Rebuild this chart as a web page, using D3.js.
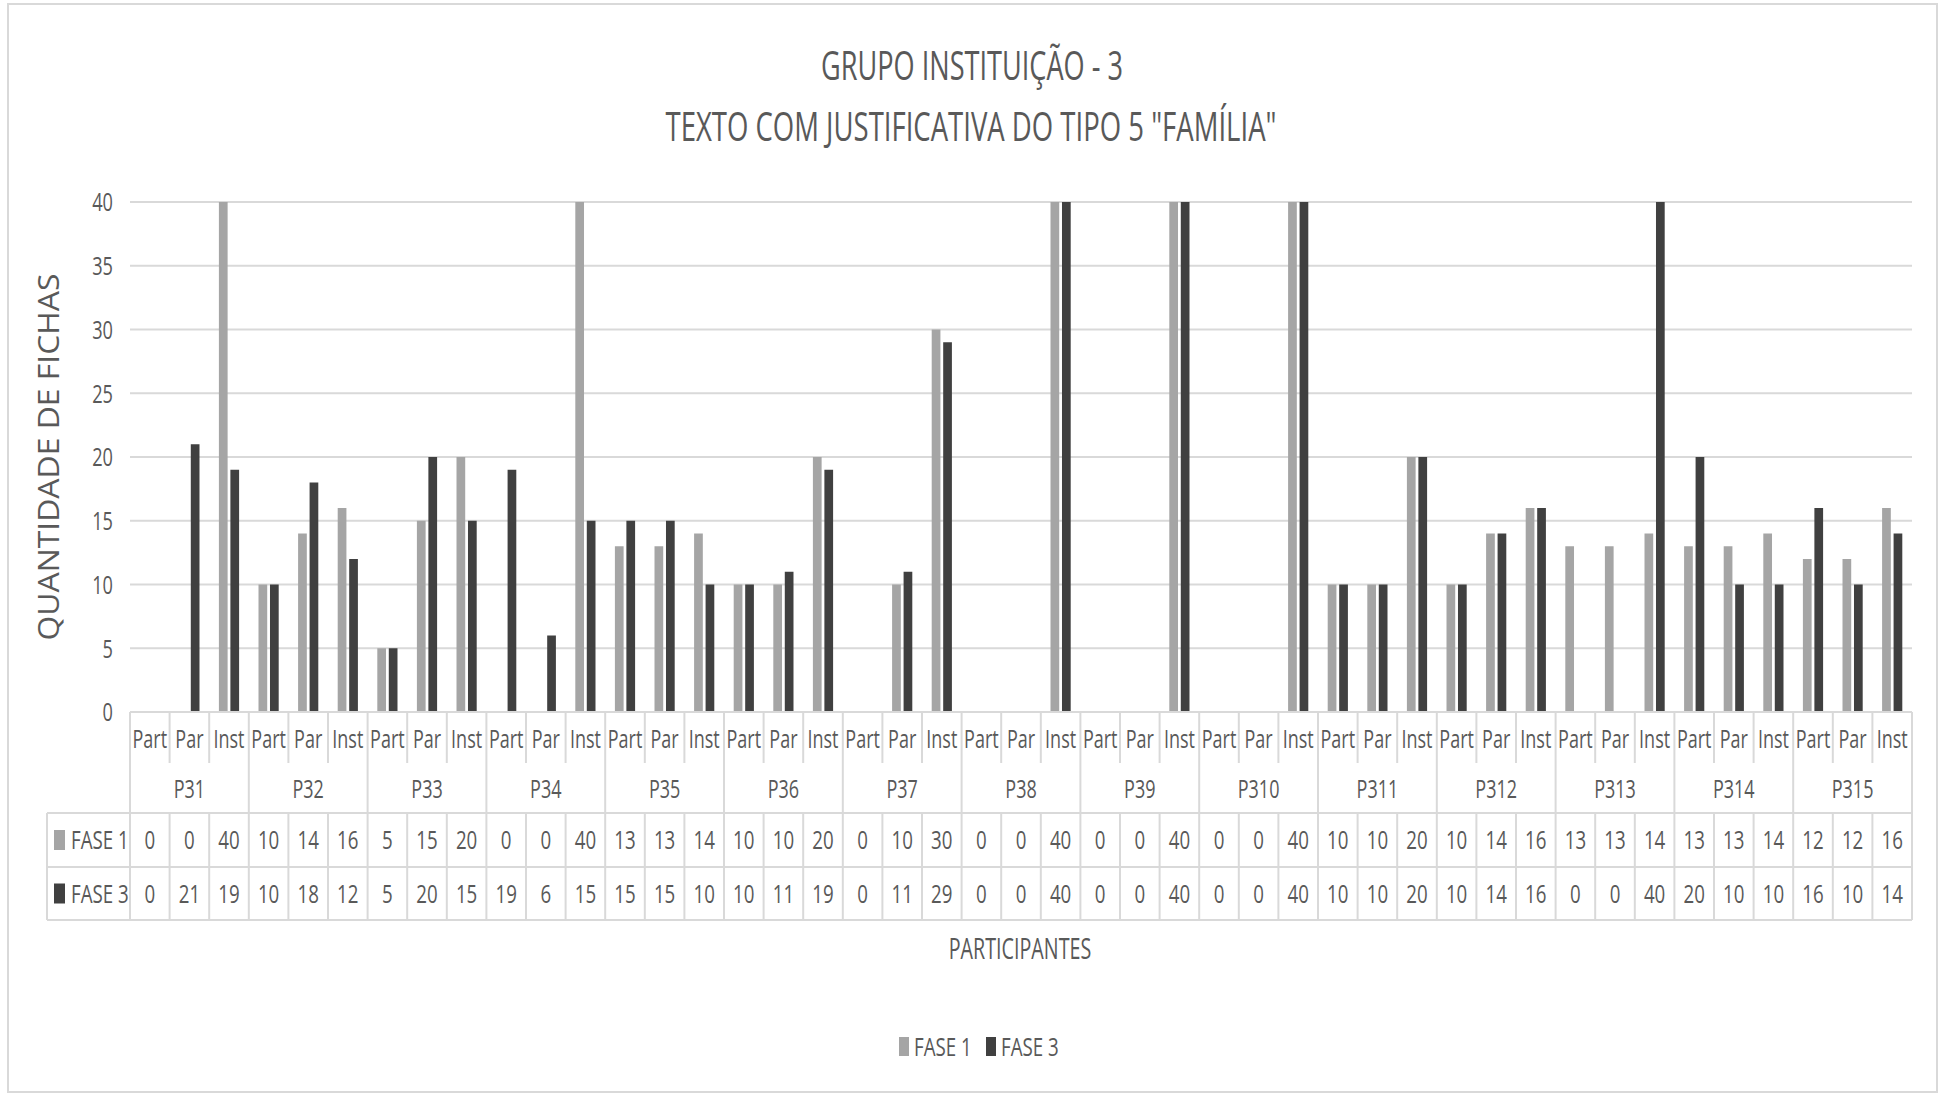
<!DOCTYPE html>
<html>
<head>
<meta charset="utf-8">
<script src="https://cdn.jsdelivr.net/npm/d3@7"></script>
<style>
  body { margin: 0; background: #fff; }
  text { font-family: "Open Sans", sans-serif; }
</style>
</head>
<body>
<svg id="chart" width="1943" height="1097"></svg>
<script>
// ---- data ----
const participants = ["P31", "P32", "P33", "P34", "P35", "P36", "P37", "P38",
  "P39", "P310", "P311", "P312", "P313", "P314", "P315"];
const subCategories = ["Part", "Par", "Inst"];
const fase1 = [0, 0, 40, 10, 14, 16, 5, 15, 20, 0, 0, 40, 13, 13, 14,
  10, 10, 20, 0, 10, 30, 0, 0, 40, 0, 0, 40, 0, 0, 40,
  10, 10, 20, 10, 14, 16, 13, 13, 14, 13, 13, 14, 12, 12, 16];
const fase3 = [0, 21, 19, 10, 18, 12, 5, 20, 15, 19, 6, 15, 15, 15, 10,
  10, 11, 19, 0, 11, 29, 0, 0, 40, 0, 0, 40, 0, 0, 40,
  10, 10, 20, 10, 14, 16, 0, 0, 40, 20, 10, 10, 16, 10, 14];
const seriesNames = ["FASE 1", "FASE 3"];
const seriesColors = ["#A5A5A5", "#404040"];
const yTicks = [0, 5, 10, 15, 20, 25, 30, 35, 40];
const titleLines = ["GRUPO INSTITUIÇÃO - 3", "TEXTO COM JUSTIFICATIVA DO TIPO 5 \"FAMÍLIA\""];
const yTitle = "QUANTIDADE DE FICHAS";
const xTitle = "PARTICIPANTES";

// ---- layout ----
const svg = d3.select("#chart");
const plotL = 130, plotR = 1912, plotT = 202, plotB = 712;
const catRowB = 763, groupRowB = 813, row1B = 867, row2B = 920, tableL = 47;
const textColor = "#595959", lineColor = "#D9D9D9";
const SX = 0.72; // horizontal text compression

const series = [fase1, fase3];
const categories = [];
participants.forEach(p => subCategories.forEach(s => categories.push(p + "|" + s)));

const x = d3.scaleBand().domain(categories).range([plotL, plotR]).padding(0);
const y = d3.scaleLinear().domain([0, 40]).range([plotB, plotT]);
const bw = x.bandwidth();
const barW = bw * 0.22, barGap = bw * 0.07;

function txt(parent, px, py, s, size, anchor = "middle", sx = SX) {
  return parent.append("text")
    .attr("transform", `translate(${px},${py}) scale(${sx},1)`)
    .attr("text-anchor", anchor)
    .attr("dy", "0.36em")
    .attr("font-size", size)
    .attr("fill", textColor)
    .text(s);
}

// chart border
svg.append("rect").attr("x", 8).attr("y", 4).attr("width", 1929).attr("height", 1088)
  .attr("fill", "#fff").attr("stroke", lineColor).attr("stroke-width", 2);

// titles
svg.append("text").attr("x", 972).attr("y", 80).attr("text-anchor", "middle")
  .attr("font-size", 40).attr("fill", textColor)
  .attr("textLength", 302).attr("lengthAdjust", "spacingAndGlyphs").text(titleLines[0]);
svg.append("text").attr("x", 971).attr("y", 141).attr("text-anchor", "middle")
  .attr("font-size", 40).attr("fill", textColor)
  .attr("textLength", 611).attr("lengthAdjust", "spacingAndGlyphs").text(titleLines[1]);

// gridlines
svg.append("g").selectAll("line").data(yTicks.filter(t => t > 0)).join("line")
  .attr("x1", plotL).attr("x2", plotR)
  .attr("y1", d => y(d)).attr("y2", d => y(d))
  .attr("stroke", lineColor).attr("stroke-width", 2);

// y tick labels
const yAxisG = svg.append("g");
yTicks.forEach(t => txt(yAxisG, 113, y(t), String(t), 26, "end", 0.7));

// y title
svg.append("text")
  .attr("transform", "translate(49,457) rotate(-90)")
  .attr("text-anchor", "middle").attr("dy", "0.36em")
  .attr("font-family", "Liberation Sans, Arial, sans-serif")
  .attr("font-size", 29).attr("fill", textColor)
  .attr("textLength", 367).attr("lengthAdjust", "spacingAndGlyphs")
  .text(yTitle);

// bars
const barsG = svg.append("g");
series.forEach((vals, si) => {
  barsG.append("g").selectAll("rect").data(vals).join("rect")
    .attr("x", (d, i) => {
      const c = x(categories[i]) + bw / 2;
      return si === 0 ? c - barGap / 2 - barW : c + barGap / 2;
    })
    .attr("width", barW)
    .attr("y", d => y(d))
    .attr("height", d => y(0) - y(d))
    .attr("fill", seriesColors[si]);
});

// category axis (two levels) and data table
const tbl = svg.append("g").attr("stroke", lineColor).attr("stroke-width", 2);
tbl.append("line").attr("x1", plotL).attr("x2", plotR).attr("y1", plotB).attr("y2", plotB);
categories.forEach((c, i) => {
  const x0 = x(c);
  const isGroupStart = i % subCategories.length === 0;
  tbl.append("line").attr("x1", x0).attr("x2", x0)
    .attr("y1", plotB).attr("y2", isGroupStart ? row2B : catRowB);
  if (!isGroupStart) {
    tbl.append("line").attr("x1", x0).attr("x2", x0).attr("y1", groupRowB).attr("y2", row2B);
  }
});
tbl.append("line").attr("x1", plotR).attr("x2", plotR).attr("y1", plotB).attr("y2", row2B);
tbl.append("line").attr("x1", tableL).attr("x2", tableL).attr("y1", groupRowB).attr("y2", row2B);
[groupRowB, row1B, row2B].forEach(yy =>
  tbl.append("line").attr("x1", tableL).attr("x2", plotR).attr("y1", yy).attr("y2", yy));

const labelsG = svg.append("g");
categories.forEach((c, i) => {
  txt(labelsG, x(c) + bw / 2, (plotB + catRowB) / 2 + 1, c.split("|")[1], 25);
});
participants.forEach((p, pi) => {
  const a = x(categories[pi * 3]);
  const b = x(categories[pi * 3 + 2]) + bw;
  txt(labelsG, (a + b) / 2, (catRowB + groupRowB) / 2 + 1, p, 25);
});
const rowCenters = [(groupRowB + row1B) / 2, (row1B + row2B) / 2];
series.forEach((vals, si) => {
  const cy = rowCenters[si];
  labelsG.append("rect").attr("x", 54).attr("y", cy - 10).attr("width", 11).attr("height", 20)
    .attr("fill", seriesColors[si]);
  txt(labelsG, 71, cy, seriesNames[si], 26, "start");
  vals.forEach((v, i) => txt(labelsG, x(categories[i]) + bw / 2, cy, String(v), 26));
});

// x title
txt(svg, 1020, 949, xTitle, 29, "middle", 0.68);

// legend
const legendG = svg.append("g");
const legendX = [899, 986];
seriesNames.forEach((n, si) => {
  legendG.append("rect").attr("x", legendX[si]).attr("y", 1037).attr("width", 10).attr("height", 19)
    .attr("fill", seriesColors[si]);
  txt(legendG, legendX[si] + 15, 1047, n, 26, "start");
});
</script>
</body>
</html>
